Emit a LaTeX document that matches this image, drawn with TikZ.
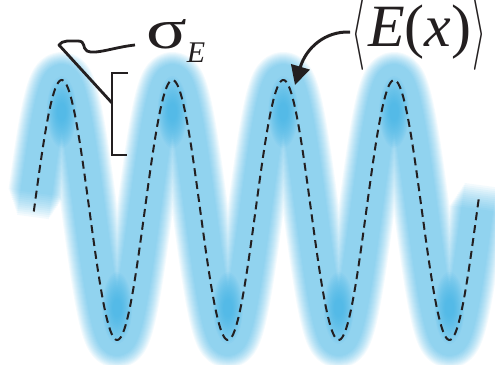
\documentclass[tikz,border=0pt]{standalone}
\usepackage{fontspec}
\usepackage{graphicx}
\setmainfont{Liberation Serif}
\usetikzlibrary{arrows.meta}
\definecolor{bandblue}{RGB}{45,170,225}
\definecolor{inkblack}{RGB}{35,31,32}
\tikzset{
  bandlayer/.style={bandblue, opacity=0.055, line join=round},
  blob/.style={bandblue, opacity=0.06},
  meancurve/.style={inkblack, line width=2pt, dash pattern=on 8pt off 5pt},
  connector/.style={inkblack, line width=2.8pt, line join=round, line cap=butt},
  biglabel/.style={inner sep=0pt, text=inkblack, font=\fontsize{54}{54}\selectfont}
}
\newcommand{\bigbr}[1]{\raisebox{-6pt}{\scalebox{3.6}[7.2]{\fontsize{10}{10}\selectfont$#1$}}}
\begin{document}
\begin{tikzpicture}[x=1pt,y=-1pt]
\useasboundingbox (0,0) rectangle (495,364);
% blurred band
\foreach \i in {0,...,12}{
  \pgfmathsetmacro\h{16+\i}
  \pgfmathsetmacro\ys{217-\i*2}
  \pgfmathsetmacro\xs{34-(\ys-210)/7.37}
  \pgfmathsetmacro\ye{185+\i*2}
  \pgfmathsetmacro\xe{477.2+(210-\ye)/7.37}
  \draw[bandlayer, line width=2*\h]
     plot[domain=\xs:\xe, samples=400] (\x,{210-130*sin((\x-34)*3.2491)});
}
% darker cores inside the tips
\foreach \px in {61.7,172.5,283.3,394.1}{
  \foreach \j in {0,...,15}{
    \fill[blob] (\px,112) ellipse [x radius={15-\j*0.7}, y radius={36-\j*1.8}];
  }
}
\foreach \px in {117.1,227.9,338.7,449.5}{
  \foreach \j in {0,...,15}{
    \fill[blob] (\px,308) ellipse [x radius={15-\j*0.7}, y radius={36-\j*1.8}];
  }
}
% mean curve
\draw[meancurve] plot[domain=33.8:479, samples=400] (\x,{210-130*sin((\x-34)*3.2491)});

% labels
\node[biglabel, anchor=base west] (sig) at (146,48)
  {\scalebox{1.4}[1.05]{σ}\kern0pt\raisebox{-14pt}{\fontsize{30}{30}\selectfont\itshape E}};
\node[biglabel, font=\fontsize{60}{60}\selectfont, anchor=base west] (ex) at (351,46)
  {\bigbr{\langle}\kern3pt\textit{E}(\textit{x})\kern1pt\bigbr{\rangle}};

% bracket
\coordinate (brTop) at (128,73);
\coordinate (brBot) at (127,155);
\coordinate (brMid) at (112,103);
\draw[connector, line join=miter] (brTop) -| (112,155) -- (brBot);

% squiggle from sigma to bracket
\coordinate (sigTail) at (135,45);
\draw[connector] (sigTail) .. controls (115,47) and (95,55) .. (87,51)
  .. controls (82,48) and (86,41) .. (78,41)
  .. controls (70,41) and (62,40) .. (59,45) -- (brMid);

% arrow from <E(x)> to a peak
\coordinate (exTail) at (350,32);
\coordinate (peak) at (295,85);
\draw[connector, line width=3pt, -{Triangle[length=19pt,width=19pt]}]
  (exTail) .. controls (325,31) and (306,48) .. (peak);
\end{tikzpicture}
\end{document}
